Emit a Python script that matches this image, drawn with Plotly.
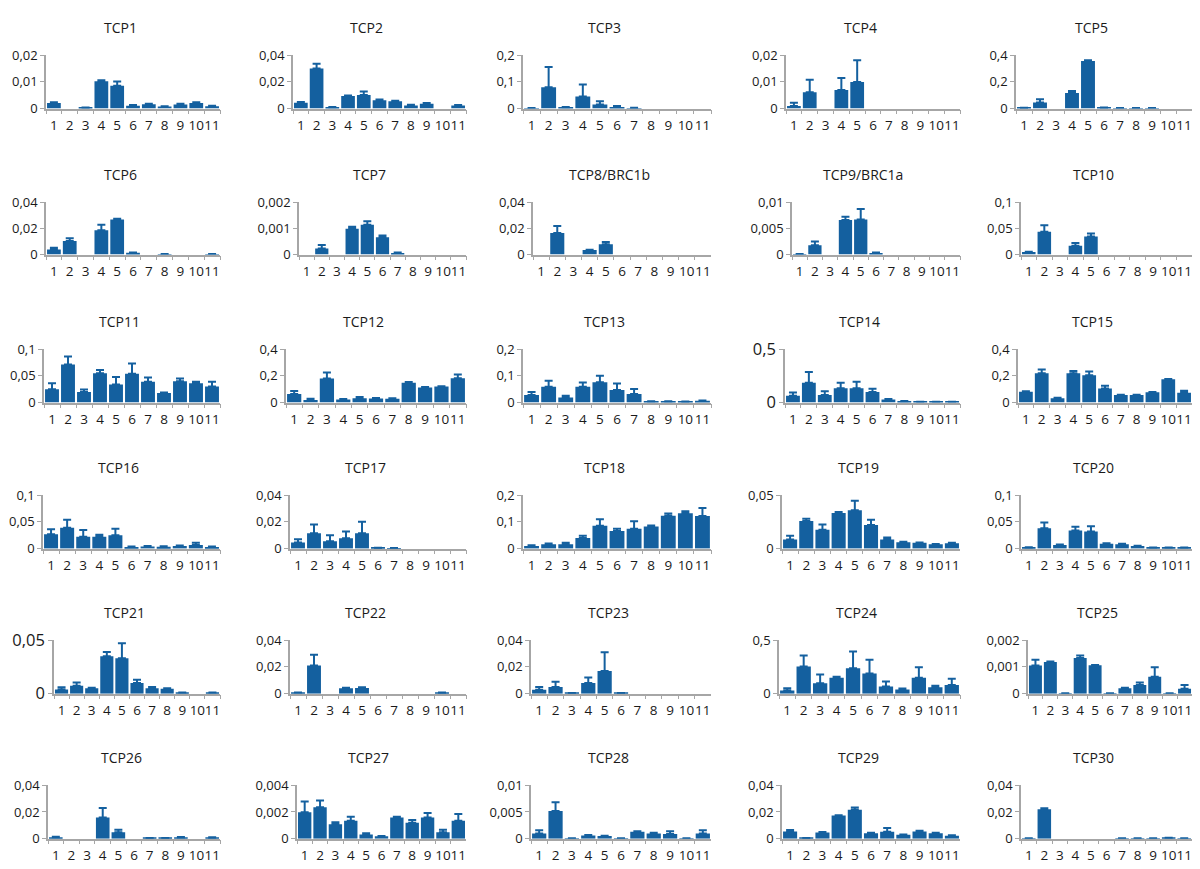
import plotly.graph_objects as go

categories = ["1", "2", "3", "4", "5", "6", "7", "8", "9", "10", "11"]

titles = ["TCP1", "TCP2", "TCP3", "TCP4", "TCP5",
          "TCP6", "TCP7", "TCP8/BRC1b", "TCP9/BRC1a", "TCP10",
          "TCP11", "TCP12", "TCP13", "TCP14", "TCP15",
          "TCP16", "TCP17", "TCP18", "TCP19", "TCP20",
          "TCP21", "TCP22", "TCP23", "TCP24", "TCP25",
          "TCP26", "TCP27", "TCP28", "TCP29", "TCP30"]

y_max = [0.02, 0.04, 0.2, 0.02, 0.4,
         0.04, 0.002, 0.04, 0.01, 0.1,
         0.1, 0.4, 0.2, 0.5, 0.4,
         0.1, 0.04, 0.2, 0.05, 0.1,
         0.05, 0.04, 0.04, 0.5, 0.002,
         0.04, 0.004, 0.01, 0.04, 0.04]

# panels whose y axis only shows 0 and the maximum
two_tick_panels = ["TCP14", "TCP19", "TCP21", "TCP24"]
big_font_panels = ["TCP14", "TCP21"]

TCP1 = [0.0021, 0, 0.0003, 0.0102, 0.0085, 0.0011, 0.0016, 0.0008, 0.0015, 0.0021, 0.0009]
TCP1_err = [0.0003, 0, 0.0001, 0.0004, 0.0016, 0.0002, 0.0002, 0.0001, 0.0003, 0.0003, 0.0002]
TCP2 = [0.0044, 0.030, 0.001, 0.0095, 0.0102, 0.0063, 0.0054, 0.0024, 0.0037, 0, 0.0024]
TCP2_err = [0.0005, 0.0035, 0.0001, 0.0003, 0.0025, 0.0005, 0.0004, 0.0004, 0.0004, 0, 0.0003]
TCP3 = [0.002, 0.08, 0.005, 0.045, 0.015, 0.006, 0.002, 0, 0, 0, 0]
TCP3_err = [0.0005, 0.075, 0.001, 0.045, 0.012, 0.004, 0.001, 0, 0, 0, 0]
TCP4 = [0.001, 0.0061, 0, 0.0069, 0.0099, 0, 0, 0, 0, 0, 0]
TCP4_err = [0.0012, 0.0047, 0, 0.0045, 0.0082, 0, 0, 0, 0, 0, 0]
TCP5 = [0.005, 0.045, 0, 0.117, 0.355, 0.007, 0.003, 0.003, 0.003, 0, 0]
TCP5_err = [0.001, 0.024, 0, 0.014, 0.007, 0.002, 0.001, 0.001, 0.001, 0, 0]

TCP6 = [0.0039, 0.0104, 0, 0.0186, 0.0267, 0.0014, 0, 0.0004, 0, 0, 0.0004]
TCP6_err = [0.0014, 0.0021, 0, 0.0041, 0.0005, 0.0003, 0, 0.0001, 0, 0, 0.0001]
TCP7 = [0, 0.00023, 0, 0.00098, 0.00114, 0.00066, 0.00006, 0, 0, 0, 0]
TCP7_err = [0, 0.00014, 0, 0.00008, 0.00013, 0.00007, 0.00002, 0, 0, 0, 0]
TCP8 = [0, 0.0165, 0, 0.0035, 0.0078, 0, 0, 0, 0, 0, 0]
TCP8_err = [0, 0.0052, 0, 0.0003, 0.0018, 0, 0, 0, 0, 0, 0]
TCP9 = [0.0001, 0.0018, 0, 0.0066, 0.0067, 0.0003, 0, 0, 0, 0, 0]
TCP9_err = [0, 0.0007, 0, 0.0006, 0.002, 0.0001, 0, 0, 0, 0, 0]
TCP10 = [0.0048, 0.0434, 0, 0.0169, 0.0343, 0, 0, 0, 0, 0, 0]
TCP10_err = [0.0008, 0.0126, 0, 0.005, 0.006, 0, 0, 0, 0, 0, 0]

TCP11 = [0.025, 0.071, 0.0196, 0.055, 0.034, 0.054, 0.039, 0.018, 0.040, 0.036, 0.030]
TCP11_err = [0.011, 0.015, 0.005, 0.006, 0.014, 0.019, 0.008, 0.001, 0.005, 0.003, 0.009]
TCP12 = [0.064, 0.019, 0.18, 0.024, 0.033, 0.03, 0.028, 0.148, 0.113, 0.12, 0.182]
TCP12_err = [0.023, 0.009, 0.045, 0.003, 0.009, 0.004, 0.004, 0.005, 0.003, 0.002, 0.028]
TCP13 = [0.028, 0.059, 0.019, 0.059, 0.076, 0.047, 0.032, 0.004, 0.004, 0.003, 0.007]
TCP13_err = [0.012, 0.023, 0.007, 0.016, 0.024, 0.024, 0.019, 0.001, 0.001, 0.001, 0.001]
TCP14 = [0.065, 0.185, 0.072, 0.135, 0.135, 0.1, 0.028, 0.012, 0.008, 0.008, 0.008]
TCP14_err = [0.03, 0.1, 0.035, 0.05, 0.06, 0.03, 0.005, 0.002, 0.001, 0.001, 0.001]
TCP15 = [0.081, 0.22, 0.033, 0.22, 0.205, 0.105, 0.056, 0.056, 0.077, 0.174, 0.074]
TCP15_err = [0.003, 0.028, 0.003, 0.016, 0.028, 0.021, 0.002, 0.002, 0.003, 0.003, 0.014]

TCP16 = [0.027, 0.039, 0.022, 0.022, 0.025, 0.003, 0.004, 0.0036, 0.005, 0.007, 0.003]
TCP16_err = [0.009, 0.015, 0.013, 0.004, 0.012, 0.001, 0.001, 0.001, 0.001, 0.004, 0.001]
TCP17 = [0.0045, 0.0115, 0.0055, 0.0078, 0.0115, 0.0005, 0.0003, 0, 0, 0, 0]
TCP17_err = [0.0025, 0.0066, 0.0044, 0.0049, 0.0085, 0.0001, 0.0001, 0, 0, 0, 0]
TCP18 = [0.01, 0.016, 0.016, 0.04, 0.085, 0.066, 0.074, 0.083, 0.123, 0.132, 0.122]
TCP18_err = [0.003, 0.003, 0.006, 0.008, 0.025, 0.008, 0.028, 0.003, 0.008, 0.008, 0.03]
TCP19 = [0.0085, 0.0258, 0.0176, 0.0333, 0.0358, 0.022, 0.0085, 0.006, 0.0055, 0.004, 0.005]
TCP19_err = [0.0036, 0.002, 0.005, 0.001, 0.009, 0.005, 0.002, 0.0005, 0.0003, 0.0003, 0.0004]
TCP20 = [0.002, 0.038, 0.0067, 0.034, 0.032, 0.009, 0.008, 0.005, 0.002, 0.002, 0.002]
TCP20_err = [0.0005, 0.011, 0.001, 0.007, 0.01, 0.001, 0.001, 0.0005, 0.0003, 0.0003, 0.0003]

TCP21 = [0.004, 0.0075, 0.005, 0.035, 0.033, 0.01, 0.005, 0.0045, 0.001, 0, 0.001]
TCP21_err = [0.002, 0.003, 0.0005, 0.004, 0.014, 0.003, 0.0013, 0.0005, 0.0002, 0, 0.0002]
TCP22 = [0.0008, 0.021, 0, 0.004, 0.0042, 0, 0, 0, 0, 0.0007, 0]
TCP22_err = [0.0001, 0.008, 0, 0.0005, 0.0006, 0, 0, 0, 0, 0.0001, 0]
TCP23 = [0.003, 0.005, 0.0005, 0.008, 0.017, 0.0005, 0, 0, 0, 0, 0]
TCP23_err = [0.002, 0.004, 0, 0.004, 0.014, 0.0001, 0, 0, 0, 0, 0]
TCP24 = [0.03, 0.253, 0.098, 0.149, 0.238, 0.188, 0.068, 0.039, 0.149, 0.06, 0.08]
TCP24_err = [0.02, 0.104, 0.08, 0.009, 0.155, 0.13, 0.045, 0.01, 0.098, 0.015, 0.06]
TCP25 = [0.00105, 0.00118, 0.00002, 0.00133, 0.00106, 0.00002, 0.0002, 0.00032, 0.00063, 0.00002, 0.00018]
TCP25_err = [0.00022, 0.00002, 0, 0.0001, 0.00001, 0, 0.00002, 0.0001, 0.00036, 0, 0.00014]

TCP26 = [0.0012, 0, 0, 0.0159, 0.0048, 0, 0.0005, 0.0005, 0.001, 0, 0.0008]
TCP26_err = [0.0003, 0, 0, 0.007, 0.002, 0, 0.0001, 0.0001, 0.0003, 0, 0.0003]
TCP27 = [0.00198, 0.00236, 0.00108, 0.00135, 0.00031, 0.00019, 0.00159, 0.0012, 0.00159, 0.00048, 0.00135]
TCP27_err = [0.0008, 0.0005, 0.00015, 0.0003, 0.0001, 0.00002, 0.00005, 0.0002, 0.00034, 0.0002, 0.0005]
TCP28 = [0.001, 0.0052, 0.0001, 0.0006, 0.0005, 0.0001, 0.0013, 0.001, 0.0009, 0.0001, 0.001]
TCP28_err = [0.0006, 0.0016, 0, 0.0001, 0.00005, 0, 0.0001, 0.0001, 0.0005, 0, 0.0006]
TCP29 = [0.0055, 0.0005, 0.0046, 0.0173, 0.0217, 0.0041, 0.0053, 0.0029, 0.0055, 0.0041, 0.0022]
TCP29_err = [0.001, 0.0001, 0.0005, 0.0003, 0.0017, 0.0004, 0.0027, 0.0003, 0.0004, 0.0004, 0.0004]
TCP30 = [0.0003, 0.022, 0, 0, 0, 0, 0.0003, 0.0003, 0.0003, 0.0007, 0.0003]
TCP30_err = [0, 0.0007, 0, 0, 0, 0, 0, 0, 0, 0.0001, 0]

values = [TCP1, TCP2, TCP3, TCP4, TCP5, TCP6, TCP7, TCP8, TCP9, TCP10,
          TCP11, TCP12, TCP13, TCP14, TCP15, TCP16, TCP17, TCP18, TCP19, TCP20,
          TCP21, TCP22, TCP23, TCP24, TCP25, TCP26, TCP27, TCP28, TCP29, TCP30]
errors = [TCP1_err, TCP2_err, TCP3_err, TCP4_err, TCP5_err, TCP6_err, TCP7_err, TCP8_err,
          TCP9_err, TCP10_err, TCP11_err, TCP12_err, TCP13_err, TCP14_err, TCP15_err,
          TCP16_err, TCP17_err, TCP18_err, TCP19_err, TCP20_err, TCP21_err, TCP22_err,
          TCP23_err, TCP24_err, TCP25_err, TCP26_err, TCP27_err, TCP28_err, TCP29_err, TCP30_err]

# ---- layout (pixels) ----
W, H = 1200, 869
col_right = [212, 458, 703, 952, 1184]
panel_left = [38, 285, 515, 778, 1008,
              38, 291, 525, 784, 1013,
              36, 278, 515, 777, 1010,
              35, 282, 515, 774, 1013,
              46, 282, 523, 771, 1020,
              40, 289, 523, 774, 1013]
row_top = [36, 187, 338, 488, 637, 786]
row_zero = [91, 241, 393, 543, 692, 841]

BAR = "#14609f"
AXIS = "#a6a6a6"
FONT = "Open Sans"
TXT = "#1a1a1a"


def fmt(v):
    if v == 0:
        return "0"
    return ("%g" % v).replace(".", ",")


fig = go.Figure()
annotations = []
layout_axes = {}

for i, name in enumerate(titles):
    r, c = divmod(i, 5)
    suffix = "" if i == 0 else str(i + 1)
    xa, ya = "x" + suffix, "y" + suffix
    vals = values[i]
    errs = errors[i]

    fig.add_trace(go.Bar(x=categories, y=vals, marker=dict(color=BAR, line=dict(width=0)),
                         xaxis=xa, yaxis=ya, showlegend=False, hoverinfo="x+y"))
    ex = [categories[k] for k in range(11) if vals[k] > 0]
    ey = [vals[k] for k in range(11) if vals[k] > 0]
    ee = [errs[k] for k in range(11) if vals[k] > 0]
    fig.add_trace(go.Scatter(x=ex, y=ey, mode="markers",
                             marker=dict(size=1, opacity=0, color=BAR),
                             error_y=dict(type="data", array=ee, arrayminus=[0] * len(ee),
                                          symmetric=False, color=BAR, thickness=2, width=4),
                             xaxis=xa, yaxis=ya, showlegend=False, hoverinfo="skip"))

    left = panel_left[i]
    right = col_right[c]
    top = row_top[r]
    zero = row_zero[r]
    ym = y_max[i]
    if name in two_tick_panels:
        tv = [0, ym]
    else:
        tv = [0, ym / 2, ym]
    tfs = 16.5 if name in big_font_panels else 13

    layout_axes["xaxis" + suffix] = dict(
        domain=[left / W, right / W], anchor=ya, type="category",
        categoryorder="array", categoryarray=categories,
        range=[-0.5, 10.5], tickmode="linear", tick0=0, dtick=1,
        showline=True, linecolor=AXIS, linewidth=1.5,
        ticks="outside", tickson="boundaries", ticklen=4, tickcolor=AXIS, tickwidth=1.2,
        ticklabelstandoff=3,
        tickfont=dict(family=FONT, size=13.5, color=TXT), showgrid=False,
        fixedrange=True, tickangle=0)
    layout_axes["yaxis" + suffix] = dict(
        domain=[1 - zero / H, 1 - top / H], anchor=xa, range=[0, ym],
        tickvals=tv, ticktext=[fmt(v) for v in tv], showline=True, linecolor=AXIS,
        linewidth=1.5, ticks="outside", ticklen=4, tickcolor=AXIS, tickwidth=1.2,
        tickfont=dict(family=FONT, size=tfs, color=TXT), showgrid=False,
        zeroline=False, fixedrange=True)

    annotations.append(dict(
        text=name, x=((left + right) / 2 - 13) / W, y=1 - (top - 28) / H,
        xref="paper", yref="paper", xanchor="center", yanchor="middle",
        showarrow=False, font=dict(family=FONT, size=14, color=TXT)))

fig.update_layout(
    width=W, height=H, autosize=False,
    margin=dict(l=0, r=0, t=0, b=0),
    paper_bgcolor="white", plot_bgcolor="white",
    bargap=0.13, annotations=annotations, showlegend=False,
    **layout_axes)

fig.write_html("out.html", config={"displayModeBar": False})
